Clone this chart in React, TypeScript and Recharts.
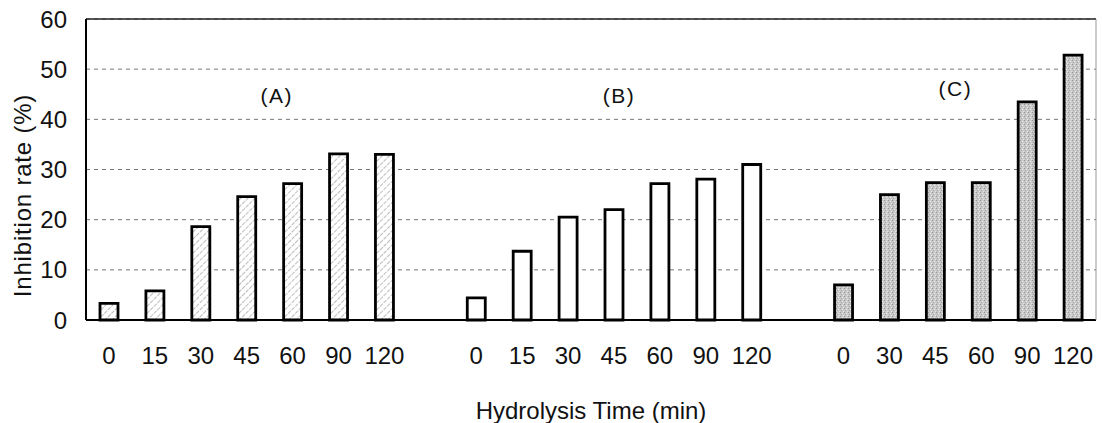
import { BarChart, Bar, XAxis, YAxis, CartesianGrid, Cell, ReferenceLine, ReferenceDot } from "recharts"

const timesA = ["0", "15", "30", "45", "60", "90", "120"]
const valuesA = [3.3, 5.8, 18.6, 24.6, 27.2, 33.1, 33.0]

const timesB = ["0", "15", "30", "45", "60", "90", "120"]
const valuesB = [4.4, 13.7, 20.5, 22.0, 27.2, 28.1, 31.0]

const timesC = ["0", "30", "45", "60", "90", "120"]
const valuesC = [7.0, 25.0, 27.4, 27.4, 43.5, 52.8]

const yTicks = [0, 10, 20, 30, 40, 50, 60]

const FONT = "'Liberation Sans', Arial, sans-serif"

const groups = [
  { id: "A", times: timesA, values: valuesA, fill: "url(#hatchA)" },
  { id: "B", times: timesB, values: valuesB, fill: "#ffffff" },
  { id: "C", times: timesC, values: valuesC, fill: "url(#stippleC)" },
]

// one empty category between groups
const rows: { key: string; label: string; value: number | null; fill: string }[] = []
groups.forEach((g, gi) => {
  if (gi > 0) rows.push({ key: `gap${gi}`, label: "", value: null, fill: "none" })
  g.times.forEach((t, i) => rows.push({ key: `${g.id}-${t}`, label: t, value: g.values[i], fill: g.fill }))
})

const annotations = [
  { text: "(A)", key: "A-45", y: 44.8, dx: 30 },
  { text: "(B)", key: "B-45", y: 44.8, dx: 5 },
  { text: "(C)", key: "C-45", y: 46.2, dx: 20 },
]

function annotLabel(text: string, dx: number) {
  return (props: any) => {
    const { x, y, width, height } = props.viewBox
    return (
      <text
        x={x + width / 2 + dx}
        y={y + height / 2}
        textAnchor="middle"
        dominantBaseline="central"
        fontSize={21}
        fontFamily={FONT}
        letterSpacing={1.5}
        fill="#111"
      >
        {text}
      </text>
    )
  }
}

function yTitle(props: any) {
  const { x, y, height } = props.viewBox
  const cx = x + 22
  const cy = y + height / 2 + 26
  return (
    <text
      x={cx}
      y={cy}
      transform={`rotate(-90 ${cx} ${cy})`}
      textAnchor="middle"
      dominantBaseline="central"
      fontSize={24}
      fontFamily={FONT}
      letterSpacing={0.8}
      fill="#111"
    >
      Inhibition rate (%)
    </text>
  )
}

export default function App() {
  return (
    <div style={{ position: "absolute", left: 0, top: 0, background: "#fff" }}>
      <BarChart width={1102} height={423} data={rows} margin={{ top: 19, right: 0, left: 0, bottom: 0 }}>
        <defs>
          <pattern id="hatchA" width="5" height="5" patternUnits="userSpaceOnUse" patternTransform="rotate(45)">
            <rect width="5" height="5" fill="#ffffff" />
            <line x1="0" y1="0" x2="0" y2="5" stroke="#8f8f8f" strokeWidth="1.2" strokeDasharray="3 1" />
          </pattern>
          <pattern id="stippleC" width="4" height="4" patternUnits="userSpaceOnUse">
            <rect width="4" height="4" fill="#c8c8c8" />
            <rect x="0" y="0" width="1" height="1" fill="#969696" />
            <rect x="2" y="1" width="1" height="1" fill="#eeeeee" />
            <rect x="1" y="2" width="1" height="1" fill="#a4a4a4" />
            <rect x="3" y="3" width="1" height="1" fill="#e4e4e4" />
          </pattern>
        </defs>
        <CartesianGrid yAxisId="left" vertical={false} stroke="#777" strokeDasharray="4 4" />
        <XAxis
          dataKey="key"
          height={103}
          interval={0}
          tickLine={false}
          tickMargin={21}
          axisLine={{ stroke: "#000", strokeWidth: 2 }}
          tick={{ fill: "#111", fontSize: 24, fontFamily: FONT }}
          tickFormatter={(_v: any, i: number) => rows[i]?.label ?? ""}
          label={{ value: "Hydrolysis Time (min)", position: "insideBottom", offset: 4, fill: "#111", fontSize: 24, fontFamily: FONT }}
        />
        <YAxis
          yAxisId="left"
          width={86}
          domain={[0, 60]}
          ticks={yTicks}
          tickLine={false}
          tickMargin={13}
          axisLine={{ stroke: "#000", strokeWidth: 2 }}
          tick={{ fill: "#111", fontSize: 24, fontFamily: FONT }}
          label={{ content: yTitle }}
        />
        <YAxis yAxisId="right" orientation="right" width={6} domain={[0, 60]} tick={false} tickLine={false} axisLine={{ stroke: "#999", strokeWidth: 1 }} />
        <ReferenceLine yAxisId="left" y={60} stroke="#222" strokeWidth={1.5} />
        <Bar yAxisId="left" dataKey="value" barSize={18} stroke="#000" strokeWidth={2.8} isAnimationActive={false}>
          {rows.map((r) => (
            <Cell key={r.key} fill={r.fill} />
          ))}
        </Bar>
        {annotations.map((a) => (
          <ReferenceDot
            key={a.text}
            yAxisId="left"
            x={a.key}
            y={a.y}
            r={2}
            fill="none"
            stroke="none"
            label={{ content: annotLabel(a.text, a.dx) }}
          />
        ))}
      </BarChart>
    </div>
  )
}
